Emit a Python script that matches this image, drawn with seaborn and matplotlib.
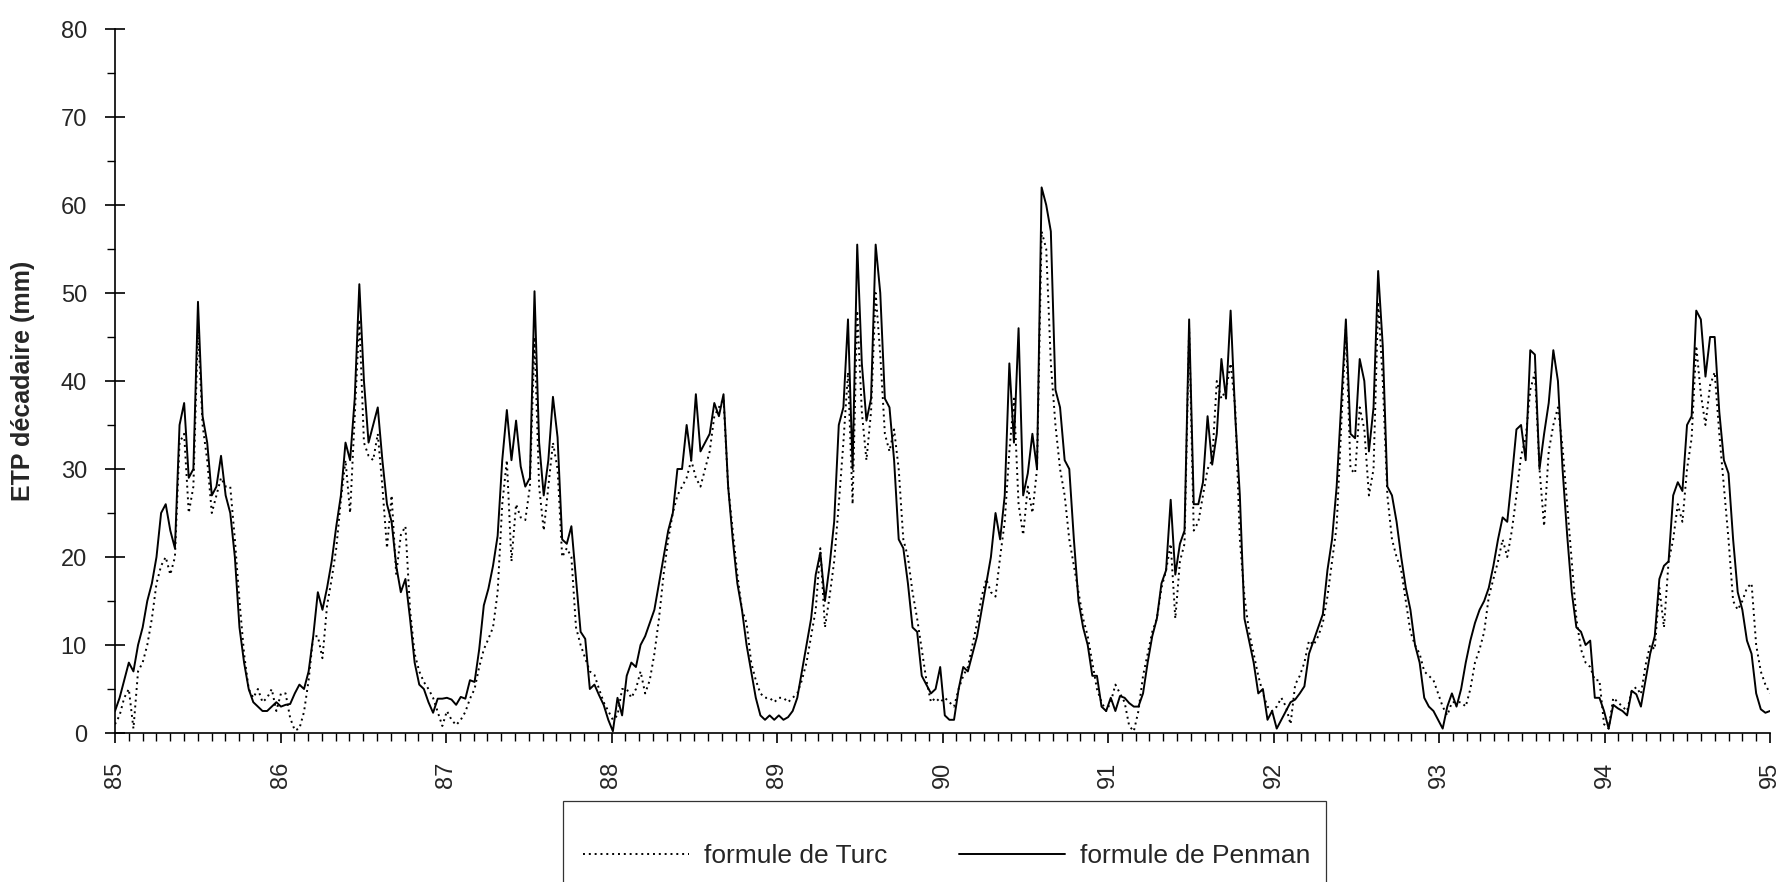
import numpy as np
import pandas as pd
import matplotlib
matplotlib.use("Agg")
import matplotlib.pyplot as plt
import seaborn as sns
from matplotlib.lines import Line2D
from matplotlib.patches import Rectangle
from matplotlib.ticker import MultipleLocator

# ETP décadaire (mm), 36 décades par an, 1985 -> 1994
penman_85 = [2.5, 4, 6, 8, 7, 10, 12, 15, 17, 20, 25, 26, 23, 21, 35, 37.5, 29, 30, 49, 36,
             33, 27, 28, 31.5, 27, 25, 20, 12, 8, 5, 3.5, 3, 2.5, 2.5, 3, 3.5]
penman_86 = [3, 3.2, 3.3, 4.5, 5.5, 5, 7, 11, 16, 14, 16.5, 19.5, 23.5, 27, 33, 31, 38, 51, 40, 33,
             35, 37, 31, 26, 24, 19, 16, 17.5, 13, 8, 5.5, 5, 3.5, 2.3, 3.9, 3.9]
penman_87 = [4, 3.8, 3.2, 4.1, 3.9, 6, 5.8, 9.5, 14.5, 16.4, 19, 22.4, 31, 36.7, 31, 35.5, 30.3, 28, 29, 50.2,
             33, 27, 31, 38.2, 33.6, 22, 21.5, 23.5, 17.5, 11.5, 10.7, 5, 5.5, 4.3, 3.2, 1.5]
penman_88 = [0.2, 4, 2, 6.5, 8, 7.5, 10, 11, 12.5, 14, 17, 20, 23, 25, 30, 30, 35, 31, 38.5, 32,
             33, 34, 37.5, 36, 38.5, 28, 22, 17, 14, 10, 7, 4, 2, 1.5, 2, 1.5]
penman_89 = [2, 1.5, 1.8, 2.5, 4, 7, 10, 13, 18, 20.5, 15, 19, 24, 35, 37, 47, 30, 55.5, 42, 35.5,
             38, 55.5, 50, 38, 37, 31, 22, 21, 17, 12, 11.5, 6.5, 5.5, 4.5, 5, 7.5]
penman_90 = [2, 1.5, 1.5, 5, 7.5, 7, 9, 11, 14, 17, 20, 25, 22, 27, 42, 33, 46, 27, 29.5, 34,
             30, 62, 60, 57, 39, 37, 31, 30, 22, 15, 12, 10, 6.5, 6.5, 3, 2.5]
penman_91 = [4, 2.5, 4.2, 4, 3.4, 3, 3, 4.5, 8, 11, 13, 17, 18.5, 26.5, 18, 21.5, 23, 47, 26, 26,
             28.5, 36, 30.5, 34, 42.5, 38, 48, 36, 27, 13, 10.5, 8, 4.5, 5, 1.5, 2.5]
penman_92 = [0.5, 1.5, 2.5, 3.5, 3.8, 4.5, 5.3, 9, 10.5, 12, 13.5, 18.5, 22, 28, 37.5, 47, 34, 33.5, 42.5, 40,
             32, 37, 52.5, 44, 28, 27, 24, 20, 16.5, 14, 10, 8, 4, 3, 2.5, 1.5]
penman_93 = [0.5, 3, 4.5, 3, 5, 8, 10.5, 12.5, 14, 15, 16.5, 19, 22, 24.5, 24, 29, 34.5, 35, 31, 43.5,
             43, 30, 34, 37.5, 43.5, 40, 30, 22.5, 16, 12, 11.5, 10, 10.5, 4, 4, 2.5]
penman_94 = [0.5, 3.2, 2.8, 2.5, 2, 4.8, 4.4, 3, 6, 9, 11, 17.5, 19, 19.5, 27, 28.5, 27.5, 35, 36, 48,
             47, 40.5, 45, 45, 36.5, 31, 29.5, 22, 16, 14, 10.5, 9, 4.5, 2.7, 2.3, 2.5]

turc_85 = [1, 2, 4, 5, 0.5, 7, 8, 10, 13, 17, 19, 20, 18, 20, 33, 34, 25, 28, 46, 35,
           31, 25, 27, 29, 28, 28, 22, 15, 9, 5, 4, 5, 3.5, 4, 5, 2.5]
turc_86 = [4.5, 4.5, 1.7, 0.3, 0.5, 2.4, 6, 11, 11, 8.5, 14.5, 17.5, 21, 26.5, 31, 25, 36, 47, 33, 31.5,
           31, 34, 28, 21, 27, 18, 22.5, 23.5, 14, 9, 7, 5.8, 5, 4, 2.4, 0.8]
turc_87 = [2.5, 1.5, 0.9, 1.5, 2.4, 3.9, 5, 7.5, 9.5, 10.7, 12, 16, 26, 31, 19.5, 26, 24.5, 24.2, 28, 45,
           28, 23, 28, 33, 30, 20, 21, 20, 12, 10, 8.5, 7, 6.6, 5, 3.5, 2.5]
turc_88 = [1.5, 2, 5, 5, 4, 5, 7, 4.5, 6, 9, 13, 18, 22, 25, 27, 28, 29, 31, 29, 28,
           30, 32, 36, 37, 38, 28, 23, 18, 14, 12.5, 8, 6, 4.5, 4, 4, 3.5]
turc_89 = [4, 4, 3.5, 4, 4.5, 6, 8, 11, 14, 21, 12, 15.5, 19.5, 26, 33, 41, 26, 48, 36.5, 31,
           36.5, 50, 43, 34, 32, 34.5, 30, 22, 20, 16, 13, 9.5, 6, 3.5, 4, 3.5]
turc_90 = [4, 3.5, 3, 5, 6.5, 7.5, 10, 12.5, 15.5, 17.5, 16, 15.5, 20, 24, 32, 38, 26, 22.5, 28, 25,
           30, 57, 55, 42, 35, 30, 27, 22, 19, 16, 13, 11, 8, 5, 3.5, 2.5]
turc_91 = [3.5, 5.5, 4.5, 3.5, 0.8, 0.2, 2.5, 6.5, 9, 11.5, 13, 16.5, 18.5, 21.5, 13, 19.5, 21.5, 46, 23, 24,
           27, 30, 31, 40, 38, 39, 42, 37, 22, 15.5, 11.5, 9, 6.5, 4.5, 3, 2.5]
turc_92 = [3, 4, 3, 1, 5.5, 6.5, 8, 10.5, 10, 11, 12.5, 15.5, 19.5, 23.5, 35, 46, 30, 29.5, 37, 34.5,
           27, 30, 49, 40, 27, 22, 20, 18.5, 15, 11.5, 10, 9, 7, 6.5, 6, 4.5]
turc_93 = [3, 2, 3.5, 3.5, 3.5, 3, 5, 8, 9.5, 11.5, 15.5, 17.5, 19.5, 22, 20, 23, 27, 31.5, 33.5, 39,
           41, 30, 23.5, 32, 35, 37, 32.5, 26, 19.5, 13, 9.5, 8, 7.5, 6, 6, 1]
turc_94 = [0.5, 4, 3.5, 3, 2.5, 4.8, 5.2, 4.4, 7.7, 10, 9.5, 16.5, 12, 19.5, 22, 26, 24, 30, 33.5, 44,
           38.5, 35, 39.5, 41, 34, 28, 22, 15, 14, 15, 16.5, 17, 10, 7, 5.5, 4.5]

years = [85, 86, 87, 88, 89, 90, 91, 92, 93, 94, 95]
penman = (penman_85 + penman_86 + penman_87 + penman_88 + penman_89
          + penman_90 + penman_91 + penman_92 + penman_93 + penman_94)
turc = (turc_85 + turc_86 + turc_87 + turc_88 + turc_89
        + turc_90 + turc_91 + turc_92 + turc_93 + turc_94)

lab_turc = "formule de Turc"
lab_penman = "formule de Penman"

t = np.linspace(85, 95, len(penman))
df = pd.DataFrame({
    "t": np.concatenate([t, t]),
    "etp": turc + penman,
    "formule": [lab_turc] * len(turc) + [lab_penman] * len(penman),
})

sns.set_style("ticks")
plt.rcParams["font.family"] = ["Liberation Sans", "DejaVu Sans"]

W, H = 1785, 882
fig = plt.figure(figsize=(W / 100, H / 100), dpi=100)
ax = fig.add_axes([115 / W, 1 - 733 / H, (1770 - 115) / W, (733 - 29) / H])

sns.lineplot(data=df, x="t", y="etp", style="formule",
             dashes={lab_turc: (1, 2), lab_penman: ""},
             color="black", linewidth=1.4, legend=False, ax=ax)

ax.set_xlim(85, 95)
ax.set_ylim(0, 80)
ax.set_xticks(years)
ax.set_xticklabels([str(y) for y in years], rotation=90)
ax.xaxis.set_minor_locator(MultipleLocator(1 / 12))
ax.set_yticks(range(0, 81, 10))
ax.yaxis.set_minor_locator(MultipleLocator(5))

ax.tick_params(axis="y", which="major", direction="inout", length=14.4, width=1.2,
               pad=13, labelsize=17, color="black")
ax.tick_params(axis="y", which="minor", direction="out", length=5.5, width=1.0, color="black")
ax.tick_params(axis="x", which="major", direction="out", length=7.2, width=1.2,
               pad=13.5, labelsize=17, color="black")
ax.tick_params(axis="x", which="minor", direction="out", length=6, width=1.0, color="black")

ax.set_xlabel("")
ax.set_ylabel("ETP décadaire (mm)", fontsize=18, fontweight="bold")
ax.yaxis.set_label_coords((35 - 115) / (1770 - 115), 0.5)

sns.despine(ax=ax)
for side in ["left", "bottom"]:
    ax.spines[side].set_linewidth(1.2)
    ax.spines[side].set_color("black")

# cadre de légende (coupé en bas)
fig.patches.append(Rectangle((563 / W, -0.2), (1326 - 563) / W, (H - 801) / H + 0.2,
                             transform=fig.transFigure, fill=False, lw=0.9,
                             edgecolor="#333333"))
handles = [
    Line2D([], [], color="black", lw=1.4, dashes=(1, 2)),
    Line2D([], [], color="black", lw=1.4),
]
fig.legend(handles, [lab_turc, lab_penman], loc="center left",
           bbox_to_anchor=(583 / W, 1 - 856 / H), bbox_transform=fig.transFigure,
           ncol=2, frameon=False, fontsize=19, handlelength=4.0,
           handletextpad=0.6, columnspacing=2.7, borderpad=0, borderaxespad=0)

fig.savefig("out.png", dpi=100)
